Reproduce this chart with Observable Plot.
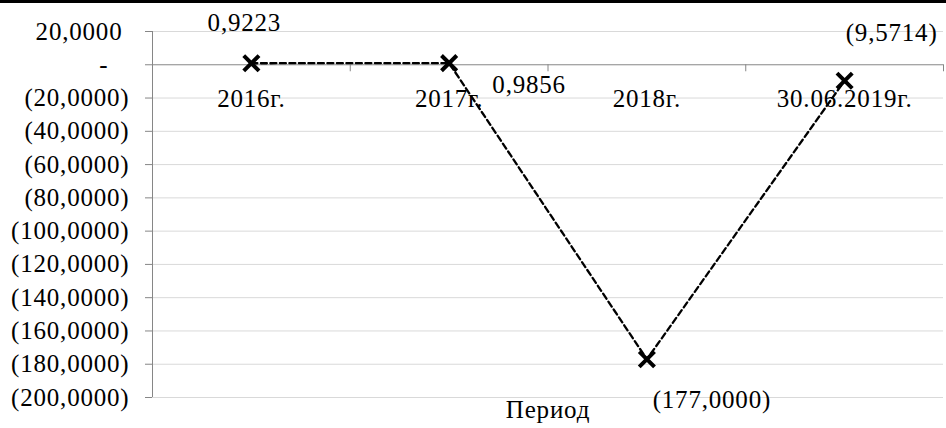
<!DOCTYPE html>
<html><head><meta charset="utf-8">
<script src="https://cdn.jsdelivr.net/npm/d3@7"></script>
<script src="https://cdn.jsdelivr.net/npm/@observablehq/plot@0.6"></script>
<style>
body{margin:0;background:#fff;}
#topbar{height:3px;background:#000;width:946px;}
#chart svg{display:block;}
</style></head><body>
<div id="topbar"></div><div id="chart"></div>
<script>
const categories = ["2016г.", "2017г.", "2018г.", "30.06.2019г."];
const values = [0.9223, 0.9856, -177.0000, -9.5714];
const yTicks = [20, 0, -20, -40, -60, -80, -100, -120, -140, -160, -180, -200];
const xTitle = "Период";

const num = v => Math.abs(v).toFixed(4).replace(".", ",");
const axisFmt = v => v === 0 ? "-\u00a0\u00a0\u00a0" : v < 0 ? "(" + num(v) + ")" : num(v) + "\u00a0";
const labelFmt = v => v < 0 ? "(" + num(v) + ")" : num(v);

const data = categories.map((c, i) => ({c, pos: i + 0.5, v: values[i], i}));
const bounds = d3.range(1, categories.length + 1);
const yMin = d3.min(yTicks), yMax = d3.max(yTicks);

// per-label placement (as in the original)
const labelOffsets = [[-7, -40], [80, 22], [65, 41], [47, -48]];

const chart = Plot.plot({
  width: 946,
  height: 425,
  marginLeft: 152,
  marginRight: 3,
  marginTop: 28,
  marginBottom: 31,
  style: "font-family: 'Liberation Serif', 'Times New Roman', serif; font-size: 25px; letter-spacing: 0.8px; color: #000; background: #fff;",
  x: {type: "linear", domain: [0, categories.length], axis: null},
  y: {domain: [yMin, yMax], axis: null},
  marks: [
    Plot.ruleY(yTicks.filter(d => d !== 0), {stroke: "#d9d9d9", strokeWidth: 1}),
    Plot.ruleY([0], {stroke: "#868686", strokeWidth: 1}),
    Plot.ruleX([0], {y1: yMin, y2: yMax, stroke: "#868686", strokeWidth: 1}),
    Plot.ruleX(bounds, {y1: 0, y2: 0, insetBottom: -7, stroke: "#868686", strokeWidth: 1}),
    Plot.axisY(yTicks, {anchor: "left", label: null, tickSize: 7, tickPadding: 16, tickFormat: axisFmt, stroke: "#868686", fill: "#000"}),
    Plot.text(data, {x: "pos", y: () => 0, text: "c", dy: 34, fill: "#000"}),
    Plot.line(data, {x: "pos", y: "v", stroke: "#000", strokeWidth: 2.3, strokeDasharray: "6,3.5"}),
    Plot.dot(data, {x: "pos", y: "v", symbol: "times", r: 7, stroke: "#000", strokeWidth: 4}),
    ...data.map((d, k) => Plot.text([d], {x: "pos", y: "v", text: r => labelFmt(r.v), dx: labelOffsets[k][0], dy: labelOffsets[k][1], fill: "#000"})),
    Plot.text([xTitle], {frameAnchor: "bottom", dy: 20, fill: "#000"})
  ]
});
document.getElementById("chart").appendChild(chart);
chart.querySelectorAll("text").forEach(t => t.style.setProperty("font-family", "'Liberation Serif', 'Times New Roman', serif", "important"));
</script>
</body></html>
